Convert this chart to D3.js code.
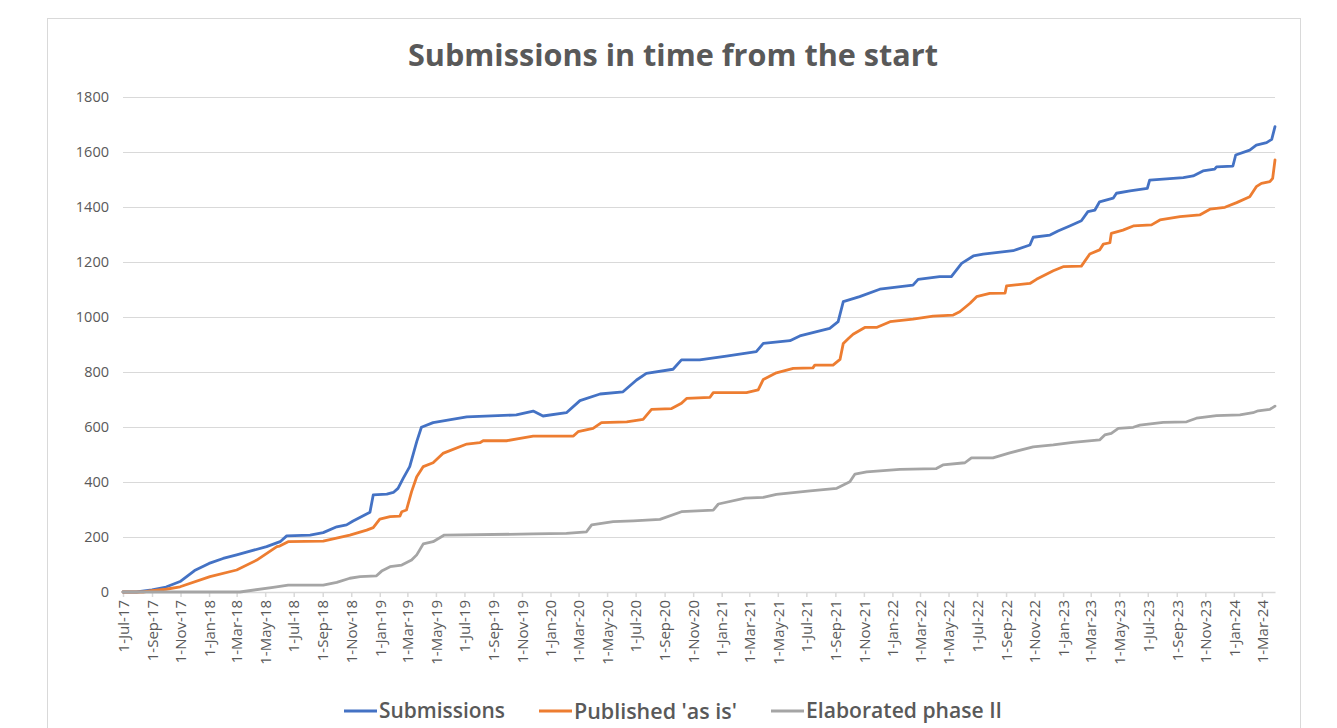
<!DOCTYPE html>
<html>
<head>
<meta charset="utf-8">
<script src="https://cdn.jsdelivr.net/npm/d3@7"></script>
<style>
  html, body { margin: 0; padding: 0; background: #ffffff; }
  svg { display: block; }
  text { font-family: "Open Sans", "DejaVu Sans", sans-serif; }
</style>
</head>
<body>
<svg id="chart" width="1337" height="728"></svg>
<script>
const titleText = "Submissions in time from the start";
const seriesNames = ["Submissions", "Published 'as is'", "Elaborated phase II"];
const seriesColors = ["#4472C4", "#ED7D31", "#A5A5A5"];
const yTicks = [0, 200, 400, 600, 800, 1000, 1200, 1400, 1600, 1800];
const xStart = "2017-07-01";
const xEnd = "2024-03-29";

const submissions = [
  ["2017-07-01",0],["2017-07-30",0],["2017-09-01",8],["2017-10-01",18],["2017-10-31",38],
  ["2017-12-01",78],["2018-01-01",104],["2018-01-31",122],["2018-03-01",135],["2018-05-04",165],
  ["2018-06-02",183],["2018-06-16",204],["2018-08-05",207],["2018-09-02",216],["2018-10-01",237],
  ["2018-10-22",244],["2018-11-05",258],["2018-12-11",290],["2018-12-18",353],["2019-01-16",356],
  ["2019-01-30",362],["2019-02-09",377],["2019-02-20",413],["2019-03-06",456],["2019-03-21",547],
  ["2019-03-31",599],["2019-04-25",616],["2019-07-06",637],["2019-10-20",644],["2019-11-25",658],
  ["2019-12-16",640],["2020-02-04",652],["2020-03-04",696],["2020-04-16",720],["2020-06-04",728],
  ["2020-07-03",771],["2020-07-24",795],["2020-09-19",810],["2020-10-07",844],["2020-11-15",844],
  ["2021-01-11",858],["2021-03-16",874],["2021-03-31",904],["2021-05-27",914],["2021-06-17",931],
  ["2021-08-20",959],["2021-09-07",983],["2021-09-18",1056],["2021-10-23",1074],["2021-12-05",1101],
  ["2022-02-14",1116],["2022-02-25",1137],["2022-04-12",1147],["2022-05-07",1147],["2022-05-29",1195],
  ["2022-06-23",1222],["2022-07-14",1229],["2022-09-16",1241],["2022-10-22",1262],["2022-10-29",1290],
  ["2022-12-04",1298],["2022-12-21",1313],["2023-01-15",1331],["2023-02-09",1350],["2023-02-23",1383],
  ["2023-03-10",1389],["2023-03-20",1419],["2023-04-18",1432],["2023-04-25",1450],["2023-05-24",1459],
  ["2023-06-30",1468],["2023-07-05",1498],["2023-09-15",1507],["2023-10-06",1513],["2023-10-27",1531],
  ["2023-11-21",1538],["2023-11-25",1546],["2023-12-30",1549],["2024-01-05",1589],["2024-02-04",1607],
  ["2024-02-18",1625],["2024-03-11",1634],["2024-03-22",1646],["2024-03-29",1692]
];

const publishedAsIs = [
  ["2017-07-01",0],["2017-08-13",0],["2017-09-01",5],["2017-10-01",10],["2017-10-31",19],
  ["2018-01-03",56],["2018-03-01",80],["2018-04-13",116],["2018-05-26",165],["2018-06-01",167],
  ["2018-06-19",183],["2018-09-02",185],["2018-10-29",207],["2018-12-04",225],["2018-12-18",234],
  ["2019-01-01",265],["2019-01-23",274],["2019-02-13",276],["2019-02-17",292],["2019-02-27",298],
  ["2019-03-10",365],["2019-03-21",419],["2019-04-04",456],["2019-04-25",470],["2019-05-16",504],
  ["2019-07-06",538],["2019-08-03",543],["2019-08-10",550],["2019-09-29",550],["2019-10-28",559],
  ["2019-11-25",567],["2020-02-19",567],["2020-02-29",583],["2020-04-01",595],["2020-04-19",616],
  ["2020-06-12",619],["2020-07-17",628],["2020-08-04",664],["2020-09-16",667],["2020-10-07",686],
  ["2020-10-18",704],["2020-12-07",708],["2020-12-14",725],["2021-02-23",725],["2021-03-20",735],
  ["2021-03-31",773],["2021-04-28",797],["2021-06-03",813],["2021-07-15",815],["2021-07-19",825],
  ["2021-08-27",825],["2021-09-11",846],["2021-09-18",904],["2021-09-29",922],["2021-10-09",937],
  ["2021-11-03",962],["2021-11-28",962],["2021-12-27",983],["2022-02-14",992],["2022-03-29",1003],
  ["2022-05-11",1007],["2022-05-25",1019],["2022-06-16",1050],["2022-06-30",1074],["2022-07-28",1086],
  ["2022-08-30",1087],["2022-09-02",1113],["2022-10-22",1122],["2022-11-05",1137],["2022-12-11",1168],
  ["2023-01-01",1183],["2023-02-09",1185],["2023-02-27",1229],["2023-03-20",1244],["2023-03-28",1265],
  ["2023-04-11",1270],["2023-04-14",1304],["2023-05-09",1316],["2023-05-31",1331],["2023-07-09",1335],
  ["2023-07-27",1353],["2023-09-08",1365],["2023-10-20",1371],["2023-11-11",1392],["2023-12-13",1399],
  ["2024-01-07",1416],["2024-02-04",1437],["2024-02-18",1474],["2024-02-29",1486],["2024-03-18",1492],
  ["2024-03-24",1504],["2024-03-29",1571]
];

const elaboratedPhase2 = [
  ["2017-07-01",0],["2018-03-08",0],["2018-05-18",17],["2018-06-19",25],["2018-09-02",25],
  ["2018-10-01",35],["2018-10-29",50],["2018-11-20",56],["2018-12-25",59],["2019-01-05",76],
  ["2019-01-23",92],["2019-02-17",98],["2019-03-10",116],["2019-03-21",135],["2019-04-04",175],
  ["2019-04-25",183],["2019-05-19",207],["2019-11-25",211],["2020-02-04",213],["2020-03-18",219],
  ["2020-03-29",244],["2020-05-14",256],["2020-06-26",259],["2020-08-22",264],["2020-10-07",292],
  ["2020-12-14",298],["2020-12-25",320],["2021-02-20",341],["2021-03-31",344],["2021-04-28",355],
  ["2021-07-09",368],["2021-09-04",377],["2021-10-02",401],["2021-10-13",429],["2021-11-07",437],
  ["2022-01-17",446],["2022-04-05",449],["2022-04-19",462],["2022-06-05",470],["2022-06-19",488],
  ["2022-08-04",488],["2022-09-09",506],["2022-10-29",528],["2022-12-11",535],["2023-01-22",544],
  ["2023-03-20",553],["2023-03-31",571],["2023-04-14",577],["2023-04-29",595],["2023-05-31",599],
  ["2023-06-14",607],["2023-08-03",617],["2023-09-22",619],["2023-10-13",632],["2023-11-25",641],
  ["2024-01-14",644],["2024-02-11",652],["2024-02-22",659],["2024-03-18",664],["2024-03-29",676]
];

const allSeries = [submissions, publishedAsIs, elaboratedPhase2];

const parse = d3.utcParse("%Y-%m-%d");
const fmt = d3.utcFormat("%-d-%b-%y");
const svg = d3.select("#chart");

// chart frame
svg.append("rect").attr("x", 47.5).attr("y", 18.5).attr("width", 1253).attr("height", 740)
  .attr("fill", "#ffffff").attr("stroke", "#d9d9d9").attr("stroke-width", 1);

const plotLeft = 123, plotRight = 1275, plotTop = 97, plotBottom = 592;
const x = d3.scaleUtc().domain([parse(xStart), parse(xEnd)]).range([plotLeft, plotRight]);
const y = d3.scaleLinear().domain([0, 1800]).range([plotBottom, plotTop]);

// gridlines + y labels
const yAxis = d3.axisLeft(y).tickValues(yTicks).tickSize(-(plotRight - plotLeft)).tickPadding(14)
  .tickFormat(d3.format("d"));
const gy = svg.append("g").attr("transform", `translate(${plotLeft},0)`).call(yAxis);
gy.select(".domain").remove();
gy.selectAll(".tick line").attr("stroke", "#d9d9d9").attr("stroke-width", 1);
gy.selectAll(".tick text").attr("fill", "#595959").style("font-size", "14.5px")
  .style("font-family", "'Open Sans', sans-serif");

// x axis
const xTickVals = d3.utcMonth.every(2).range(parse(xStart), d3.utcDay.offset(parse(xEnd), 1));
const xAxis = d3.axisBottom(x).tickValues(xTickVals).tickFormat(fmt).tickSize(5).tickSizeOuter(0);
const gx = svg.append("g").attr("transform", `translate(0,${plotBottom})`).call(xAxis);
gx.select(".domain").attr("stroke", "#d9d9d9").attr("stroke-width", 1.5);
gx.selectAll(".tick line").attr("stroke", "#d9d9d9").attr("stroke-width", 1.5);
gx.selectAll(".tick text")
  .attr("fill", "#595959").style("font-size", "15px").style("font-family", "'Open Sans', sans-serif")
  .attr("transform", "rotate(-90)")
  .attr("text-anchor", "end")
  .attr("x", -8).attr("y", 0).attr("dy", "0.35em");

// lines
const line = d3.line().x(d => x(parse(d[0]))).y(d => y(d[1])).curve(d3.curveLinear);
allSeries.forEach((s, i) => {
  svg.append("path").datum(s).attr("d", line).attr("fill", "none")
    .attr("stroke", seriesColors[i]).attr("stroke-width", 2.8)
    .attr("stroke-linejoin", "round").attr("stroke-linecap", "round");
});

// title
const title = svg.append("text").text(titleText).attr("x", 673).attr("y", 66)
  .attr("text-anchor", "middle").attr("fill", "#595959")
  .style("font-weight", "700").style("font-size", "28px");
const tw = title.node().getComputedTextLength();
title.style("font-size", (28 * 530 / tw).toFixed(2) + "px");

// legend
const legend = svg.append("g");
const targetW = [126, 163, 196];
let cx = 0;
seriesNames.forEach((n, i) => {
  const g = legend.append("g");
  g.append("line").attr("x1", 0).attr("x2", 33).attr("y1", 0).attr("y2", 0)
    .attr("stroke", seriesColors[i]).attr("stroke-width", 3);
  const t = g.append("text").text(n).attr("x", 35).attr("y", 0).attr("dy", "0.35em")
    .attr("fill", "#595959").style("font-size", "20px").style("font-weight", "600");
  const w = t.node().getComputedTextLength();
  t.style("font-size", (20 * targetW[i] / w).toFixed(2) + "px");
  g.attr("transform", `translate(${cx},0)`);
  cx += 35 + targetW[i] + 34;
});
const totalW = cx - 34;
legend.attr("transform", `translate(${673 - totalW / 2},711)`);
</script>
</body>
</html>
